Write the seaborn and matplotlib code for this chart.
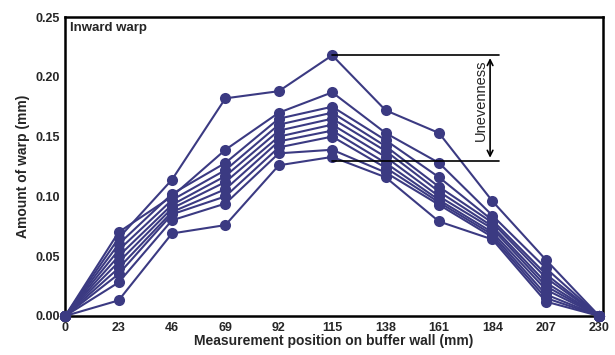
import pandas as pd
import seaborn as sns
import matplotlib.pyplot as plt

sns.set_style('white')
plt.rcParams['font.family'] = ['Liberation Sans', 'DejaVu Sans']

positions = [0, 23, 46, 69, 92, 115, 138, 161, 184, 207, 230]

# warp measured on each wall (mm)
warp_a = [0, 0.065, 0.114, 0.182, 0.188, 0.218, 0.172, 0.153, 0.096, 0.047, 0]
warp_b = [0, 0.070, 0.100, 0.139, 0.170, 0.187, 0.153, 0.128, 0.084, 0.040, 0]
warp_c = [0, 0.060, 0.102, 0.128, 0.165, 0.175, 0.147, 0.116, 0.080, 0.035, 0]
warp_d = [0, 0.055, 0.097, 0.122, 0.160, 0.170, 0.142, 0.108, 0.078, 0.032, 0]
warp_e = [0, 0.050, 0.093, 0.117, 0.155, 0.165, 0.138, 0.104, 0.075, 0.028, 0]
warp_f = [0, 0.045, 0.090, 0.112, 0.150, 0.160, 0.133, 0.100, 0.073, 0.025, 0]
warp_g = [0, 0.040, 0.087, 0.106, 0.146, 0.155, 0.128, 0.097, 0.070, 0.022, 0]
warp_h = [0, 0.035, 0.085, 0.100, 0.141, 0.150, 0.124, 0.095, 0.068, 0.018, 0]
warp_i = [0, 0.028, 0.080, 0.094, 0.136, 0.139, 0.120, 0.093, 0.066, 0.015, 0]
warp_j = [0, 0.013, 0.069, 0.076, 0.126, 0.133, 0.116, 0.079, 0.064, 0.012, 0]

series = [warp_a, warp_b, warp_c, warp_d, warp_e, warp_f, warp_g, warp_h, warp_i, warp_j]

rows = []
for k, s in enumerate(series):
    for p, v in zip(positions, s):
        rows.append({'line': k, 'pos': p, 'warp': v})
df = pd.DataFrame(rows)

navy = '#3b3a82'

fig = plt.figure(figsize=(6.15, 3.55), dpi=100)
ax = fig.add_axes([0.106, 0.110, 0.874, 0.842])
sns.lineplot(data=df, x='pos', y='warp', units='line', estimator=None,
             color=navy, marker='o', markersize=8, markeredgewidth=0,
             linewidth=1.5, ax=ax, clip_on=False, zorder=3)

ax.set_xlim(0, 231.5)
ax.set_ylim(0, 0.25)
ax.set_xticks(positions)
ax.set_yticks([0, 0.05, 0.10, 0.15, 0.20, 0.25])
ax.set_yticklabels(['0.00', '0.05', '0.10', '0.15', '0.20', '0.25'])
ax.tick_params(direction='in', length=4, width=1.5, labelsize=9, pad=4)
for lab in ax.get_xticklabels() + ax.get_yticklabels():
    lab.set_fontweight('bold')
for sp in ax.spines.values():
    sp.set_linewidth(1.8)
    sp.set_color('black')

ax.set_xlabel('Measurement position on buffer wall (mm)', fontsize=10,
              fontweight='bold', labelpad=0)
ax.set_ylabel('Amount of warp (mm)', fontsize=10, fontweight='bold', labelpad=4)
ax.text(2, 0.246, 'Inward warp', fontsize=9.5, fontweight='bold', va='top', ha='left')

# unevenness annotation
top_v = max(warp_a)
low_v = 0.130
ax.plot([115, 187], [top_v, top_v], color='black', lw=1.2, zorder=4)
ax.plot([115, 187], [low_v, low_v], color='black', lw=1.2, zorder=4)
ax.annotate('', xy=(183, low_v), xytext=(183, top_v),
            arrowprops=dict(arrowstyle='<->', color='black', lw=1.2))
ax.text(179, (top_v + low_v) / 2 + 0.006, 'Unevenness', rotation=90, fontsize=10.5,
        ha='center', va='center')

fig.savefig('out.png', dpi=100)
